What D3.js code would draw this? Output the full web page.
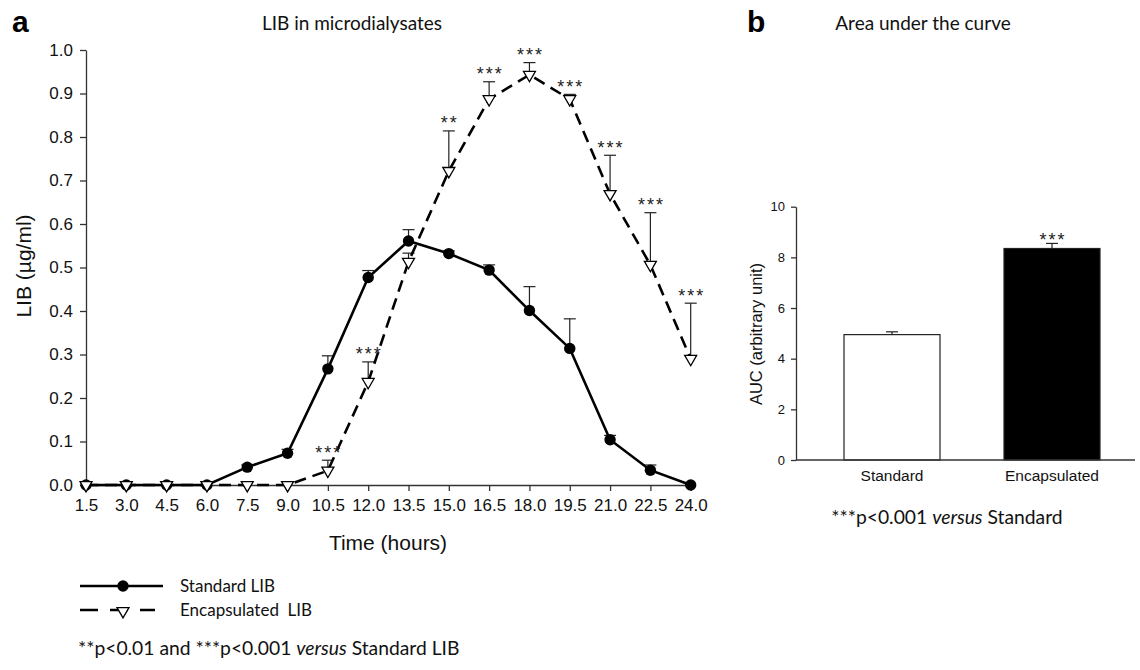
<!DOCTYPE html>
<html>
<head>
<meta charset="utf-8">
<script src="https://cdn.jsdelivr.net/npm/d3@7"></script>
<style>
  body { margin: 0; background: #fff; }
  .tick text { font-family: "Liberation Sans", Arial, sans-serif; fill: #111; }
  .cal { font-family: Lato, "Open Sans", sans-serif; fill: #111; }
</style>
</head>
<body>
<svg id="chart" width="1140" height="670"></svg>
<script>
// ---- data ----
var times = [1.5, 3.0, 4.5, 6.0, 7.5, 9.0, 10.5, 12.0, 13.5, 15.0, 16.5, 18.0, 19.5, 21.0, 22.5, 24.0];
var standardMean = [0, 0, 0, 0, 0.041, 0.073, 0.267, 0.477, 0.561, 0.532, 0.494, 0.401, 0.314, 0.104, 0.034, 0];
var standardErr = [0, 0, 0, 0, 0.005, 0.009, 0.030, 0.016, 0.026, 0.006, 0.012, 0.055, 0.068, 0.010, 0.012, 0];
var encapMean = [0, 0, 0, 0, 0, 0, 0.033, 0.237, 0.513, 0.722, 0.887, 0.943, 0.887, 0.669, 0.506, 0.290];
var encapErr = [0, 0, 0, 0, 0, 0, 0.024, 0.046, 0.020, 0.092, 0.040, 0.028, 0.011, 0.089, 0.120, 0.128];
var encapStars = ["", "", "", "", "", "", "***", "***", "", "**", "***", "***", "***", "***", "***", "***"];
var yTicksA = [0, 0.1, 0.2, 0.3, 0.4, 0.5, 0.6, 0.7, 0.8, 0.9, 1.0];

var aucGroups = ["Standard", "Encapsulated"];
var aucMean = [4.95, 8.35];
var aucErr = [0.11, 0.20];
var aucStars = ["", "***"];
var yTicksB = [0, 2, 4, 6, 8, 10];

var svg = d3.select("#chart");
svg.append("rect").attr("width", 1140).attr("height", 670).attr("fill", "#fff");

//------------------------------------------------------------------------//
// PANEL A : LIB in microdialysates
var x = d3.scaleLinear().domain([1.5, 24]).range([86, 690.7]);
var y = d3.scaleLinear().domain([0, 1]).range([485, 50]);

svg.append("g")
  .attr("transform", "translate(0," + y(0) + ")")
  .call(d3.axisBottom(x).tickValues(times).tickFormat(d3.format(".1f")).tickSize(6).tickSizeOuter(0).tickPadding(8))
  .call(function(g) { g.selectAll("text").style("font-size", "17px"); })
  .call(function(g) { g.selectAll("line,path").attr("stroke", "#333").attr("stroke-width", 1.3); });

svg.append("g")
  .attr("transform", "translate(" + x(1.5) + ",0)")
  .call(d3.axisLeft(y).tickValues(yTicksA).tickFormat(d3.format(".1f")).tickSize(6).tickSizeOuter(0).tickPadding(7))
  .call(function(g) { g.selectAll("text").style("font-size", "17px"); })
  .call(function(g) { g.selectAll("line,path").attr("stroke", "#333").attr("stroke-width", 1.3); });

// axis labels + titles
svg.append("text").attr("x", 388).attr("y", 550).attr("text-anchor", "middle")
  .style("font-family", "Liberation Sans, Arial, sans-serif").style("font-size", "21px").attr("fill", "#111")
  .text("Time (hours)");
svg.append("text").attr("text-anchor", "middle")
  .attr("transform", "translate(31,266)rotate(-90)")
  .style("font-family", "Liberation Sans, Arial, sans-serif").style("font-size", "21px").attr("fill", "#111")
  .text("LIB (µg/ml)");
svg.append("text").attr("class", "cal").attr("x", 352).attr("y", 30).attr("text-anchor", "middle")
  .style("font-size", "19px").text("LIB in microdialysates");
svg.append("text").attr("x", 12).attr("y", 32)
  .style("font-family", "Liberation Sans, Arial, sans-serif").style("font-size", "30px").style("font-weight", "bold")
  .text("a");

// error bars (upward only)
function errBars(means, errs) {
  var g = svg.append("g").attr("stroke", "#222").attr("stroke-width", 1.2);
  times.forEach(function(t, i) {
    if (errs[i] <= 0) return;
    g.append("line").attr("x1", x(t)).attr("x2", x(t)).attr("y1", y(means[i])).attr("y2", y(means[i] + errs[i]));
    g.append("line").attr("x1", x(t) - 6).attr("x2", x(t) + 6).attr("y1", y(means[i] + errs[i])).attr("y2", y(means[i] + errs[i]));
  });
}
errBars(standardMean, standardErr);
errBars(encapMean, encapErr);

var line = d3.line().x(function(d) { return x(d[0]); }).y(function(d) { return y(d[1]); });
svg.append("path")
  .datum(d3.zip(times, standardMean))
  .attr("fill", "none").attr("stroke", "#000").attr("stroke-width", 2.6)
  .attr("d", line);
svg.append("path")
  .datum(d3.zip(times, encapMean))
  .attr("fill", "none").attr("stroke", "#000").attr("stroke-width", 2.6)
  .attr("stroke-dasharray", "12,7")
  .attr("d", line);

// markers
svg.append("g").selectAll("circle")
  .data(d3.zip(times, standardMean))
  .enter().append("circle")
  .attr("cx", function(d) { return x(d[0]); })
  .attr("cy", function(d) { return y(d[1]); })
  .attr("r", 5.7).attr("fill", "#000");

var tri = d3.symbol().type(d3.symbolTriangle).size(62);
svg.append("g").selectAll("path")
  .data(d3.zip(times, encapMean))
  .enter().append("path")
  .attr("d", tri)
  .attr("transform", function(d) { return "translate(" + x(d[0]) + "," + y(d[1]) + ")rotate(180)"; })
  .attr("fill", "#fff").attr("stroke", "#000").attr("stroke-width", 1.3);

// significance stars
svg.append("g").selectAll("text")
  .data(times)
  .enter().append("text")
  .attr("x", function(d) { return x(d) + 1; })
  .attr("y", function(d, i) { return y(encapMean[i] + encapErr[i]) - 1.5; })
  .attr("text-anchor", "middle")
  .style("font-family", "Liberation Sans, Arial, sans-serif").style("font-size", "18px").attr("fill", "#222")
  .style("letter-spacing", "2px")
  .text(function(d, i) { return encapStars[i]; });

// legend
var lg = svg.append("g");
lg.append("line").attr("x1", 80).attr("x2", 163).attr("y1", 586).attr("y2", 586).attr("stroke", "#000").attr("stroke-width", 2.6);
lg.append("circle").attr("cx", 123).attr("cy", 586).attr("r", 5.7).attr("fill", "#000");
lg.append("line").attr("x1", 80).attr("x2", 155).attr("y1", 610).attr("y2", 610).attr("stroke", "#000").attr("stroke-width", 2.6)
  .attr("stroke-dasharray", "18,12");
lg.append("path").attr("d", tri).attr("transform", "translate(123,611)rotate(180)")
  .attr("fill", "#fff").attr("stroke", "#000").attr("stroke-width", 1.3);
lg.append("text").attr("class", "cal").attr("x", 180).attr("y", 592).style("font-size", "17px").text("Standard LIB");
lg.append("text").attr("class", "cal").attr("x", 180).attr("y", 616).style("font-size", "17px").attr("xml:space", "preserve")
  .style("white-space", "pre").text("Encapsulated  LIB");

var fa = svg.append("text").attr("class", "cal").attr("x", 78).attr("y", 655).style("font-size", "19.3px");
fa.append("tspan").text("**p<0.01 and ***p<0.001 ");
fa.append("tspan").style("font-style", "italic").text("versus");
fa.append("tspan").text(" Standard LIB");

//------------------------------------------------------------------------//
// PANEL B : Area under the curve
var xb = d3.scaleBand().domain(aucGroups).range([844, 1100]).paddingInner(0.4).paddingOuter(0);
var yb = d3.scaleLinear().domain([0, 10]).range([460, 206.7]);

svg.append("g").selectAll("rect")
  .data(aucGroups)
  .enter().append("rect")
  .attr("x", function(d) { return xb(d); })
  .attr("y", function(d, i) { return yb(aucMean[i]); })
  .attr("width", xb.bandwidth())
  .attr("height", function(d, i) { return yb(0) - yb(aucMean[i]); })
  .attr("fill", function(d, i) { return i === 0 ? "#fff" : "#000"; })
  .attr("stroke", "#222").attr("stroke-width", 1.2);

aucGroups.forEach(function(gname, i) {
  var cx = xb(gname) + xb.bandwidth() / 2;
  svg.append("line").attr("x1", cx).attr("x2", cx).attr("y1", yb(aucMean[i])).attr("y2", yb(aucMean[i] + aucErr[i]))
    .attr("stroke", "#222").attr("stroke-width", 1.2);
  svg.append("line").attr("x1", cx - 6).attr("x2", cx + 6).attr("y1", yb(aucMean[i] + aucErr[i])).attr("y2", yb(aucMean[i] + aucErr[i]))
    .attr("stroke", "#222").attr("stroke-width", 1.2);
  svg.append("text").attr("x", cx + 1).attr("y", yb(aucMean[i] + aucErr[i]) + 3).attr("text-anchor", "middle")
    .style("font-family", "Liberation Sans, Arial, sans-serif").style("font-size", "18px").style("letter-spacing", "2px")
    .attr("fill", "#222").text(aucStars[i]);
});

svg.append("g")
  .attr("transform", "translate(0," + yb(0) + ")")
  .call(d3.axisBottom(xb).tickSize(0).tickPadding(10))
  .call(function(g) { g.select(".domain").attr("d", "M796,0H1135"); })
  .call(function(g) { g.selectAll("text").style("font-size", "15.5px"); })
  .call(function(g) { g.selectAll("line,path").attr("stroke", "#333").attr("stroke-width", 1.3); });

svg.append("g")
  .attr("transform", "translate(796,0)")
  .call(d3.axisLeft(yb).tickValues(yTicksB).tickSize(5).tickSizeOuter(0).tickPadding(6))
  .call(function(g) { g.selectAll("text").style("font-size", "13px"); })
  .call(function(g) { g.selectAll("line,path").attr("stroke", "#333").attr("stroke-width", 1.3); });

svg.append("text").attr("text-anchor", "middle")
  .attr("transform", "translate(762,334)rotate(-90)")
  .style("font-family", "Liberation Sans, Arial, sans-serif").style("font-size", "16.5px").attr("fill", "#111")
  .text("AUC (arbitrary unit)");
svg.append("text").attr("class", "cal").attr("x", 923).attr("y", 30).attr("text-anchor", "middle")
  .style("font-size", "19px").text("Area under the curve");
svg.append("text").attr("x", 747).attr("y", 32)
  .style("font-family", "Liberation Sans, Arial, sans-serif").style("font-size", "30px").style("font-weight", "bold")
  .text("b");

var fb = svg.append("text").attr("class", "cal").attr("x", 947).attr("y", 524).attr("text-anchor", "middle").style("font-size", "19.3px");
fb.append("tspan").text("***p<0.001 ");
fb.append("tspan").style("font-style", "italic").text("versus");
fb.append("tspan").text(" Standard");
</script>
</body>
</html>
